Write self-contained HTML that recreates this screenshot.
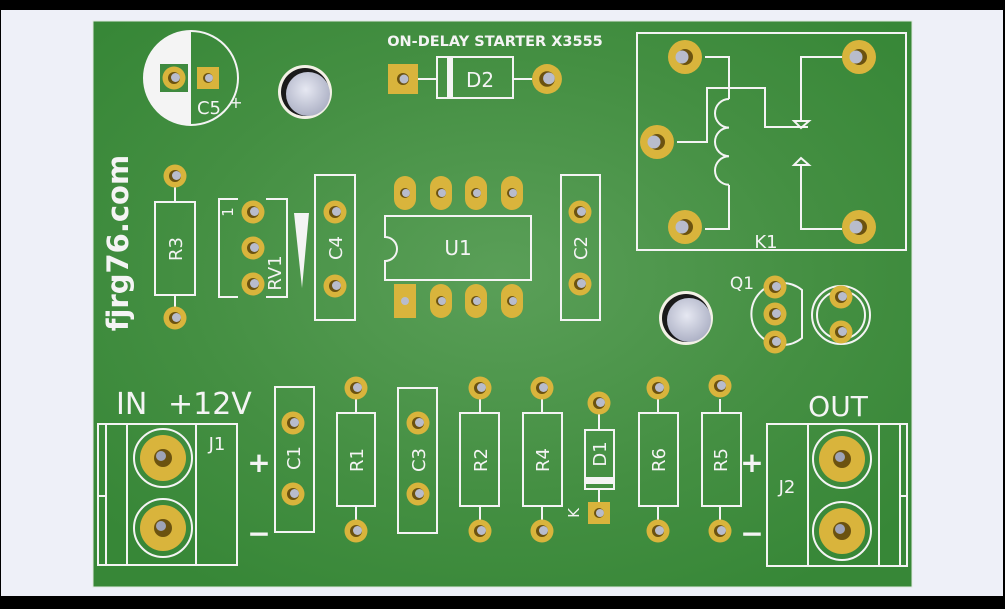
<!DOCTYPE html>
<html><head><meta charset="utf-8"><style>
html,body{margin:0;padding:0;background:#000;}
svg{display:block;}
text{font-family:"DejaVu Sans","Liberation Sans",sans-serif;fill:#f4f4f4;}
</style></head><body>
<svg width="1005" height="609" viewBox="0 0 1005 609" xmlns="http://www.w3.org/2000/svg">
<defs>
<radialGradient id="bg" cx="0.5" cy="0.45" r="0.65">
<stop offset="0" stop-color="#5a9f58"/><stop offset="0.6" stop-color="#448f42"/><stop offset="1" stop-color="#378737"/>
</radialGradient>
<radialGradient id="hole" cx="0.45" cy="0.4" r="0.6">
<stop offset="0" stop-color="#e6e8f2"/><stop offset="1" stop-color="#aeb2c6"/>
</radialGradient>
<g id="p"><circle r="11.5" fill="#d9b43c"/><circle r="6" fill="#6b5210"/><circle cx="1.5" cy="-0.5" r="4.5" fill="#b8bccc"/></g>
<g id="pb"><circle r="17" fill="#d9b43c"/><circle r="8" fill="#6b5210"/><circle cx="-3" cy="0" r="6.5" fill="#b8bccc"/></g>
<g id="pj"><circle r="29" fill="none" stroke="#f4f4f4" stroke-width="2"/><circle r="23" fill="#d9b43c"/><circle r="9" fill="#6b5210"/><circle cx="-2" cy="-2" r="5" fill="#9ea3b8"/></g>
<g id="mh"><circle r="27" fill="#f3f1e6"/><circle r="24" fill="#1a1a1a"/><circle cx="3" cy="2" r="22" fill="url(#hole)"/></g>
<g id="ov"><rect x="-11" y="-17" width="22" height="34" rx="11" fill="#d9b43c"/><circle r="5" fill="#6b5210"/><circle cx="1" r="4" fill="#b8bccc"/></g>
</defs>
<rect x="0" y="0" width="1005" height="609" fill="#000"/>
<rect x="1" y="10" width="1002" height="586" fill="#eef0f8"/>
<rect x="93" y="21" width="819" height="566" fill="url(#bg)" stroke="#dfe8df" stroke-width="1"/>

<g fill="none" stroke="#f4f4f4" stroke-width="2">
<path d="M191 31 A47 47 0 0 0 191 125 Z" fill="#f4f4f4" stroke="none"/>
<circle cx="191" cy="78" r="47"/>
<line x1="418" y1="79" x2="437" y2="79"/><line x1="513" y1="79" x2="532" y2="79"/>
<rect x="437" y="57" width="76" height="41"/>
<rect x="448" y="57" width="4" height="41" fill="#f4f4f4"/>
<line x1="175" y1="187" x2="175" y2="202"/><line x1="175" y1="295" x2="175" y2="308"/>
<rect x="155" y="202" width="40" height="93"/>
<path d="M238 199 H219 V297 H238 M266 199 H287 V297 H266"/>
<rect x="315" y="175" width="40" height="145"/>
<path d="M385 216 H531 V280 H385 V261 A12 12 0 0 0 385 237 Z"/>
<rect x="561" y="175" width="39" height="145"/>
<rect x="637" y="33" width="269" height="217"/>
<path d="M705 57 H729 V99 M729 185 V229 H705"/>
<path d="M729 99 a14 14.3 0 0 0 0 28.6 a14 14.3 0 0 0 0 28.6 a14 14.3 0 0 0 0 28.6"/>
<path d="M677 142 H707 V88 H765 V127 H808"/>
<path d="M842 57 H801 V121"/><path d="M794 121 H809 L801 128 Z"/>
<path d="M842 229 H801 V165"/><path d="M794 165 H809 L801 158 Z"/>
<path d="M802 290 A31 31 0 1 0 802 338 Z"/>
<circle cx="841" cy="315" r="29"/><circle cx="841" cy="315" r="24"/>
<rect x="98" y="424" width="139" height="141"/>
<line x1="106" y1="424" x2="106" y2="565"/><line x1="127" y1="424" x2="127" y2="565"/><line x1="196" y1="424" x2="196" y2="565"/>
<line x1="98" y1="496" x2="106" y2="496"/>
<rect x="275" y="387" width="39" height="145"/>
<path d="M356 399 V413 M356 506 V520"/><rect x="337" y="413" width="38" height="93"/>
<rect x="398" y="388" width="39" height="145"/>
<path d="M480 399 V413 M480 506 V520"/><rect x="460" y="413" width="39" height="93"/>
<path d="M542 399 V413 M542 506 V520"/><rect x="523" y="413" width="39" height="93"/>
<path d="M599 414 V430 M599 489 V502"/><rect x="585" y="430" width="29" height="59"/>
<rect x="585" y="478" width="29" height="5" fill="#f4f4f4"/>
<path d="M658 399 V413 M658 506 V520"/><rect x="639" y="413" width="39" height="93"/>
<path d="M720 399 V413 M720 506 V520"/><rect x="702" y="413" width="39" height="93"/>
<rect x="767" y="424" width="140" height="142"/>
<line x1="808" y1="424" x2="808" y2="566"/><line x1="879" y1="424" x2="879" y2="566"/><line x1="900" y1="424" x2="900" y2="566"/>
<line x1="900" y1="496" x2="907" y2="496"/>
</g>
<polygon points="294,213 309,213 302,288" fill="#f4f4f4"/>

<rect x="160" y="64" width="28" height="28" fill="#3f8a3f"/>
<use href="#p" x="174" y="78"/>
<rect x="197" y="67" width="22" height="22" fill="#d9b43c"/><circle cx="208" cy="78" r="5" fill="#6b5210"/><circle cx="209" cy="78" r="4" fill="#b8bccc"/>
<use href="#mh" x="305" y="92"/>
<use href="#mh" x="686" y="318"/>
<rect x="388" y="64" width="30" height="30" fill="#d9b43c"/><circle cx="403" cy="79" r="6" fill="#6b5210"/><circle cx="404" cy="79" r="4.5" fill="#b8bccc"/>
<use href="#p" x="547" y="79" transform="translate(547 79) scale(1.3) translate(-547 -79)"/>
<use href="#p" x="175" y="176"/><use href="#p" x="175" y="318"/>
<use href="#p" x="253" y="212"/><use href="#p" x="253" y="248"/><use href="#p" x="253" y="284"/>
<use href="#p" x="335" y="212"/><use href="#p" x="335" y="286"/>
<use href="#ov" x="405" y="193"/><use href="#ov" x="441" y="193"/><use href="#ov" x="476" y="193"/><use href="#ov" x="512" y="193"/>
<rect x="394" y="284" width="22" height="34" fill="#d9b43c"/><circle cx="405" cy="301" r="4" fill="#b8bccc"/>
<use href="#ov" x="441" y="301"/><use href="#ov" x="476" y="301"/><use href="#ov" x="512" y="301"/>
<use href="#p" x="580" y="212"/><use href="#p" x="580" y="284"/>
<use href="#pb" x="685" y="57"/><use href="#pb" x="859" y="57"/><use href="#pb" x="657" y="142"/><use href="#pb" x="685" y="227"/><use href="#pb" x="859" y="227"/>
<use href="#p" x="775" y="287"/><use href="#p" x="775" y="314"/><use href="#p" x="775" y="342"/>
<use href="#p" x="841" y="297"/><use href="#p" x="841" y="332"/>
<use href="#pj" x="163" y="458"/><use href="#pj" x="163" y="528"/>
<use href="#pj" x="842" y="459"/><use href="#pj" x="842" y="531"/>
<use href="#p" x="293" y="423"/><use href="#p" x="293" y="494"/>
<use href="#p" x="356" y="388"/><use href="#p" x="356" y="531"/>
<use href="#p" x="418" y="423"/><use href="#p" x="418" y="494"/>
<use href="#p" x="480" y="388"/><use href="#p" x="480" y="531"/>
<use href="#p" x="542" y="388"/><use href="#p" x="542" y="531"/>
<use href="#p" x="599" y="403"/>
<rect x="588" y="502" width="22" height="22" fill="#d9b43c"/><circle cx="599" cy="513" r="5" fill="#6b5210"/><circle cx="600" cy="513" r="4" fill="#b8bccc"/>
<use href="#p" x="658" y="388"/><use href="#p" x="658" y="531"/>
<use href="#p" x="720" y="386"/><use href="#p" x="720" y="531"/>

<text x="495" y="46" font-size="14.5" font-weight="bold" text-anchor="middle">ON-DELAY STARTER X3555</text>
<text x="480" y="87" font-size="20" text-anchor="middle">D2</text>
<text x="209" y="114" font-size="18" text-anchor="middle">C5</text>
<text x="236" y="108" font-size="16" text-anchor="middle">+</text>
<text transform="translate(128 243) rotate(-90)" font-size="29" font-weight="bold" text-anchor="middle">fjrg76.com</text>
<text transform="translate(182 249) rotate(-90)" font-size="18" text-anchor="middle">R3</text>
<text transform="translate(233 212) rotate(-90)" font-size="15" text-anchor="middle">1</text>
<text transform="translate(281 273) rotate(-90)" font-size="18" text-anchor="middle">RV1</text>
<text transform="translate(342 248) rotate(-90)" font-size="18" text-anchor="middle">C4</text>
<text x="458" y="255" font-size="20" text-anchor="middle">U1</text>
<text transform="translate(587 248) rotate(-90)" font-size="18" text-anchor="middle">C2</text>
<text x="766" y="248" font-size="18" text-anchor="middle">K1</text>
<text x="742" y="289" font-size="17" text-anchor="middle">Q1</text>
<text x="116" y="414" font-size="30">IN</text>
<text x="168" y="414" font-size="30">+12V</text>
<text x="217" y="450" font-size="18" text-anchor="middle">J1</text>
<text x="259" y="472" font-size="28" font-weight="bold" text-anchor="middle">+</text>
<text x="259" y="543" font-size="28" font-weight="bold" text-anchor="middle">−</text>
<text transform="translate(300 458) rotate(-90)" font-size="18" text-anchor="middle">C1</text>
<text transform="translate(363 460) rotate(-90)" font-size="18" text-anchor="middle">R1</text>
<text transform="translate(425 460) rotate(-90)" font-size="18" text-anchor="middle">C3</text>
<text transform="translate(487 460) rotate(-90)" font-size="18" text-anchor="middle">R2</text>
<text transform="translate(549 460) rotate(-90)" font-size="18" text-anchor="middle">R4</text>
<text transform="translate(606 454) rotate(-90)" font-size="18" text-anchor="middle">D1</text>
<text transform="translate(579 513) rotate(-90)" font-size="15" text-anchor="middle">K</text>
<text transform="translate(665 460) rotate(-90)" font-size="18" text-anchor="middle">R6</text>
<text transform="translate(727 460) rotate(-90)" font-size="18" text-anchor="middle">R5</text>
<text x="752" y="472" font-size="28" font-weight="bold" text-anchor="middle">+</text>
<text x="752" y="543" font-size="28" font-weight="bold" text-anchor="middle">−</text>
<text x="787" y="493" font-size="18" text-anchor="middle">J2</text>
<text x="838" y="416" font-size="28" text-anchor="middle">OUT</text>
</svg>
</body></html>
